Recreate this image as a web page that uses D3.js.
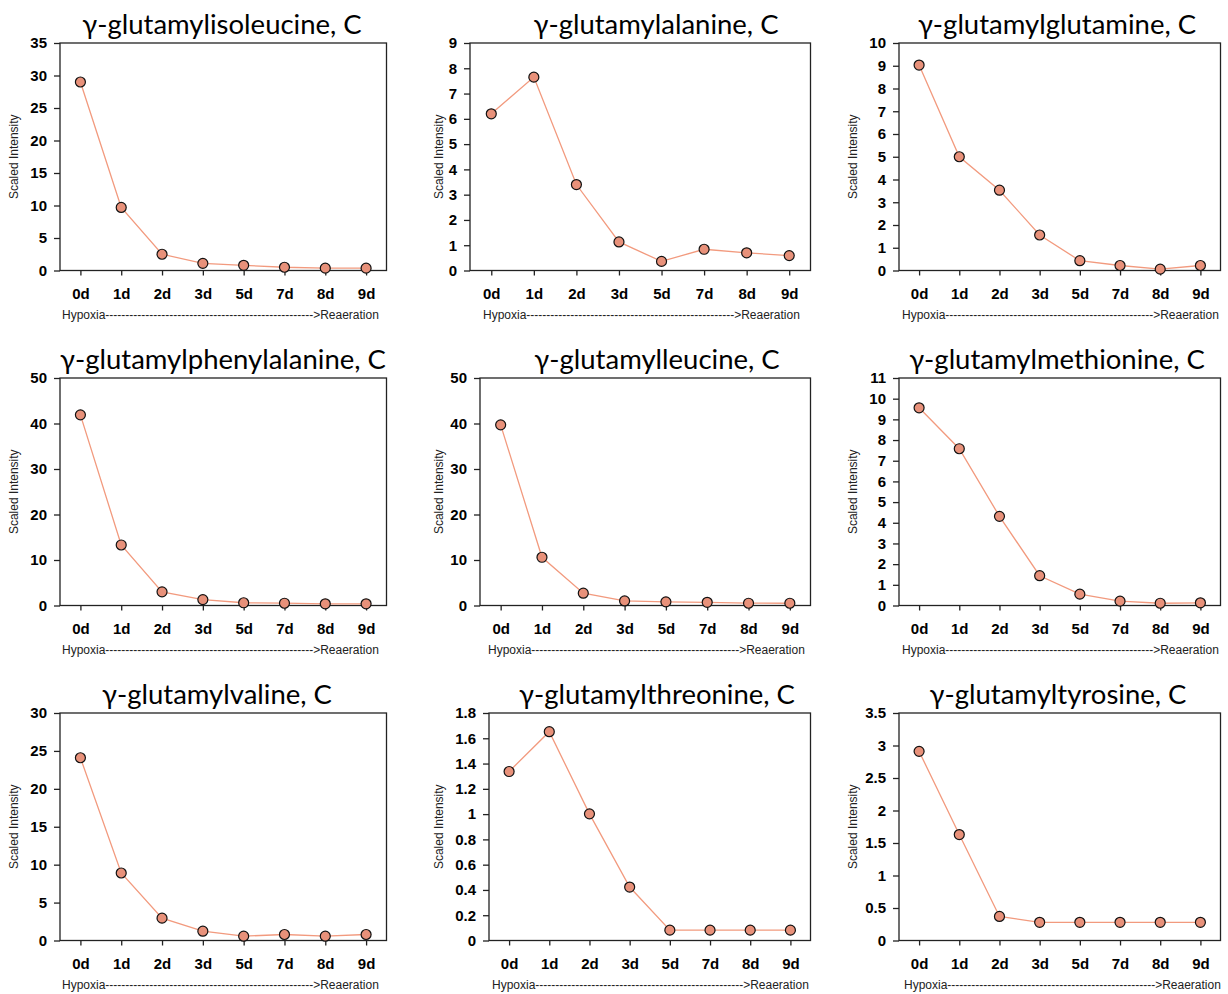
<!DOCTYPE html>
<html>
<head>
<meta charset="utf-8">
<script src="https://cdn.jsdelivr.net/npm/d3@7"></script>
<style>
  html, body { margin: 0; padding: 0; background: #fff; }
  svg { display: block; }
</style>
</head>
<body>
<svg id="chart" width="1228" height="994"></svg>
<script>
// ---------- DATA ----------
const categories = ["0d", "1d", "2d", "3d", "5d", "7d", "8d", "9d"];

const titles = [
  "γ-glutamylisoleucine, C", "γ-glutamylalanine, C", "γ-glutamylglutamine, C",
  "γ-glutamylphenylalanine, C", "γ-glutamylleucine, C", "γ-glutamylmethionine, C",
  "γ-glutamylvaline, C", "γ-glutamylthreonine, C", "γ-glutamyltyrosine, C"
];

const isoleucine    = [29.0, 9.7, 2.5, 1.1, 0.8, 0.5, 0.36, 0.36];
const alanine       = [6.2, 7.65, 3.4, 1.13, 0.36, 0.84, 0.70, 0.59];
const glutamine     = [9.03, 5.0, 3.53, 1.56, 0.43, 0.22, 0.06, 0.22];
const phenylalanine = [41.9, 13.3, 3.0, 1.3, 0.6, 0.5, 0.37, 0.37];
const leucine       = [39.7, 10.6, 2.7, 1.0, 0.8, 0.7, 0.5, 0.5];
const methionine    = [9.56, 7.58, 4.31, 1.44, 0.55, 0.21, 0.11, 0.13];
const valine        = [24.1, 8.9, 2.95, 1.23, 0.57, 0.79, 0.57, 0.79];
const threonine     = [1.337, 1.652, 1.002, 0.423, 0.082, 0.082, 0.082, 0.082];
const tyrosine      = [2.91, 1.63, 0.37, 0.28, 0.28, 0.28, 0.28, 0.28];

const seriesValues = [isoleucine, alanine, glutamine, phenylalanine, leucine,
                      methionine, valine, threonine, tyrosine];

const yTicks = [
  [0, 5, 10, 15, 20, 25, 30, 35],
  [0, 1, 2, 3, 4, 5, 6, 7, 8, 9],
  [0, 1, 2, 3, 4, 5, 6, 7, 8, 9, 10],
  [0, 10, 20, 30, 40, 50],
  [0, 10, 20, 30, 40, 50],
  [0, 1, 2, 3, 4, 5, 6, 7, 8, 9, 10, 11],
  [0, 5, 10, 15, 20, 25, 30],
  [0, 0.2, 0.4, 0.6, 0.8, 1, 1.2, 1.4, 1.6, 1.8],
  [0, 0.5, 1, 1.5, 2, 2.5, 3, 3.5]
];

const yTitle = "Scaled Intensity";
const xNote = "Hypoxia---------------------------------------------------->Reaeration";

// ---------- LAYOUT ----------
const rowTop = [43, 378, 713];
const rowBottom = [270.5, 605.5, 940.5];
const colRight = [386.5, 810.5, 1220.5];
const plotLeft = [[60, 470, 899], [60, 480, 899], [60, 489, 899]];
const yTitleX = [14, 439, 853];
const titleCX = [[222, 656, 1057], [223, 657, 1057], [217, 657, 1058]];
const noteLeft = [[62, 483, 902], [62, 488, 902], [62, 492, 904]];

const lineColor = "#F29A7E";
const dotFill = "#E8917A";
const fnt = "'Liberation Sans', Arial, sans-serif";

const svg = d3.select("#chart");

seriesValues.forEach((vals, i) => {
  const r = Math.floor(i / 3), c = i % 3;
  const left = plotLeft[r][c], right = colRight[c];
  const top = rowTop[r], bottom = rowBottom[r];
  const ticks = yTicks[i];
  const yMax = ticks[ticks.length - 1];

  const x = d3.scalePoint().domain(categories).range([left, right]).padding(0.5);
  const y = d3.scaleLinear().domain([0, yMax]).range([bottom, top]);

  const g = svg.append("g");

  // y axis
  const yAx = g.append("g")
    .attr("transform", `translate(${left},0)`)
    .call(d3.axisLeft(y).tickValues(ticks).tickSize(6).tickSizeOuter(0)
      .tickFormat(d => String(+d.toFixed(2))));
  yAx.select(".domain").remove();
  yAx.selectAll(".tick line").attr("stroke", "#222").attr("stroke-width", 1.3);
  yAx.selectAll(".tick text")
    .attr("x", -13)
    .attr("font-family", fnt)
    .attr("font-weight", "bold").attr("font-size", 15).attr("fill", "#000");

  // x axis
  const xAx = g.append("g")
    .attr("transform", `translate(0,${bottom})`)
    .call(d3.axisBottom(x).tickSize(5).tickSizeOuter(0));
  xAx.select(".domain").remove();
  xAx.selectAll(".tick line").attr("stroke", "#222").attr("stroke-width", 1.3);
  xAx.selectAll(".tick text")
    .attr("y", 18)
    .attr("font-family", fnt)
    .attr("font-weight", "bold").attr("font-size", 15).attr("fill", "#000");

  // plot frame
  g.append("rect")
    .attr("x", left).attr("y", top)
    .attr("width", right - left).attr("height", bottom - top)
    .attr("fill", "none").attr("stroke", "#222").attr("stroke-width", 1.3);

  // line
  const line = d3.line().x((d, k) => x(categories[k])).y(d => y(d));
  g.append("path").datum(vals)
    .attr("d", line).attr("fill", "none")
    .attr("stroke", lineColor).attr("stroke-width", 1.3);

  // dots
  g.selectAll("circle.dot").data(vals).join("circle")
    .attr("class", "dot")
    .attr("cx", (d, k) => x(categories[k]))
    .attr("cy", d => y(d))
    .attr("r", 5)
    .attr("fill", dotFill).attr("stroke", "#111").attr("stroke-width", 1.2);

  // title
  g.append("text")
    .attr("x", titleCX[r][c]).attr("y", top - 9)
    .attr("text-anchor", "middle")
    .attr("font-family", "Lato, 'Open Sans', sans-serif")
    .attr("font-size", 27.5).attr("fill", "#000")
    .text(titles[i]);

  // y title
  g.append("text")
    .attr("transform", `translate(${yTitleX[c]},${(top + bottom) / 2}) rotate(-90)`)
    .attr("dy", "0.35em")
    .attr("text-anchor", "middle")
    .attr("font-family", fnt)
    .attr("font-size", 12).attr("fill", "#222")
    .text(yTitle);

  // x note: Hypoxia ----> Reaeration
  g.append("text").attr("x", noteLeft[r][c]).attr("y", bottom + 48)
    .attr("font-family", fnt).attr("font-size", 12).attr("fill", "#222")
    .text(xNote);
});
</script>
</body>
</html>
